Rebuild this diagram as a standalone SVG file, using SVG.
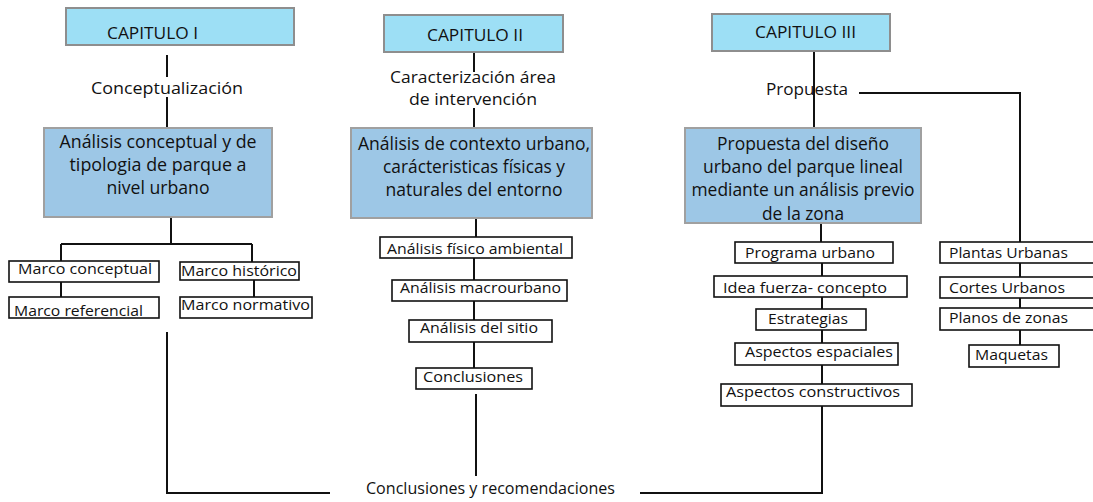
<svg xmlns="http://www.w3.org/2000/svg" width="1093" height="502" viewBox="0 0 1093 502">
<style>
text{font-family:"Open Sans","Liberation Sans",sans-serif;fill:#111;}
.cap{fill:#9ddff5;stroke:#8e8e8e;stroke-width:2;}
.main{fill:#9dc7e6;stroke:#a0a0a0;stroke-width:2;}
.sm{fill:#fff;stroke:#111;stroke-width:1.6;}
.t17{font-size:17px;}
.t18{font-size:18px;}
.t16{font-size:16px;}
.t15{font-size:15px;}
.c{fill:none;stroke:#111;stroke-width:2;}
</style>
<rect width="1093" height="502" fill="#fff"/>
<g id="connectors">
<path class="c" d="M167 55V77M167 97V128M171 217V244M61 244H252M61 244V261M61 282V297M252 244V262M254 280V297M167 332V493H330"/>
<path class="c" d="M474 52V72M474 108V128M476 218V237M474 258V280M474 301V320M474 342V368M476 394V476M640 493H822V406"/>
<path class="c" d="M814 51V128M859 93H1020V242M821 223V242M822 263V276M822 297V309M822 330V343M822 365V384M1020 263V277M1020 298V308M1020 330V345"/>
</g>
<g id="cap1"><rect class="cap" x="66" y="8" width="228" height="37"/><text class="t17" x="107" y="39" textLength="91" lengthAdjust="spacingAndGlyphs">CAPITULO I</text></g>
<g id="lbl1"><text class="t16" x="91" y="94" textLength="152" lengthAdjust="spacingAndGlyphs">Conceptualización</text></g>
<g id="main1"><rect class="main" x="44" y="128" width="228" height="89"/>
<text class="t18" x="158" y="148" text-anchor="middle" textLength="197" lengthAdjust="spacingAndGlyphs">Análisis conceptual y de</text>
<text class="t18" x="158" y="171" text-anchor="middle" textLength="177" lengthAdjust="spacingAndGlyphs">tipologia de parque a</text>
<text class="t18" x="158" y="194" text-anchor="middle" textLength="103" lengthAdjust="spacingAndGlyphs">nivel urbano</text></g>
<g id="mconc"><rect class="sm" x="9" y="261" width="150" height="21"/><text class="t15" x="18" y="274" textLength="134" lengthAdjust="spacingAndGlyphs">Marco conceptual</text></g>
<g id="mref"><rect class="sm" x="9" y="297" width="150" height="21"/><text class="t15" x="14" y="316" textLength="129" lengthAdjust="spacingAndGlyphs">Marco referencial</text></g>
<g id="mhist"><rect class="sm" x="180" y="262" width="119" height="18"/><text class="t15" x="181" y="276" textLength="116" lengthAdjust="spacingAndGlyphs">Marco histórico</text></g>
<g id="mnorm"><rect class="sm" x="180" y="297" width="132" height="21"/><text class="t15" x="181" y="310" textLength="129" lengthAdjust="spacingAndGlyphs">Marco normativo</text></g>

<g id="cap2"><rect class="cap" x="384" y="15" width="179" height="37"/><text class="t17" x="427" y="41" textLength="96" lengthAdjust="spacingAndGlyphs">CAPITULO II</text></g>
<g id="lbl2"><text class="t16" x="473" y="83" text-anchor="middle" textLength="166" lengthAdjust="spacingAndGlyphs">Caracterización área</text><text class="t16" x="473" y="105" text-anchor="middle" textLength="128" lengthAdjust="spacingAndGlyphs">de intervención</text></g>
<g id="main2"><rect class="main" x="351" y="128" width="241" height="90"/>
<text class="t18" x="474" y="150" text-anchor="middle" textLength="232" lengthAdjust="spacingAndGlyphs">Análisis de contexto urbano,</text>
<text class="t18" x="474" y="173" text-anchor="middle" textLength="182" lengthAdjust="spacingAndGlyphs">carácteristicas físicas y</text>
<text class="t18" x="474" y="196" text-anchor="middle" textLength="177" lengthAdjust="spacingAndGlyphs">naturales del entorno</text></g>
<g id="afa"><rect class="sm" x="380" y="237" width="192" height="21"/><text class="t15" x="387" y="254" textLength="176" lengthAdjust="spacingAndGlyphs">Análisis físico ambiental</text></g>
<g id="amu"><rect class="sm" x="392" y="280" width="175" height="21"/><text class="t15" x="400" y="293" textLength="161" lengthAdjust="spacingAndGlyphs">Análisis macrourbano</text></g>
<g id="ads"><rect class="sm" x="409" y="320" width="143" height="22"/><text class="t15" x="420" y="333" textLength="118" lengthAdjust="spacingAndGlyphs">Análisis del sitio</text></g>
<g id="concl"><rect class="sm" x="416" y="368" width="116" height="21"/><text class="t15" x="423" y="382" textLength="100" lengthAdjust="spacingAndGlyphs">Conclusiones</text></g>
<g id="cyr"><text class="t16" x="366" y="494" textLength="249" lengthAdjust="spacingAndGlyphs">Conclusiones y recomendaciones</text></g>

<g id="cap3"><rect class="cap" x="712" y="14" width="178" height="37"/><text class="t17" x="755" y="38" textLength="101" lengthAdjust="spacingAndGlyphs">CAPITULO III</text></g>
<g id="lbl3"><text class="t16" x="766" y="95" textLength="82" lengthAdjust="spacingAndGlyphs">Propuesta</text></g>
<g id="main3"><rect class="main" x="685" y="128" width="236" height="95"/>
<text class="t18" x="803" y="150" text-anchor="middle" textLength="172" lengthAdjust="spacingAndGlyphs">Propuesta del diseño</text>
<text class="t18" x="803" y="173" text-anchor="middle" textLength="200" lengthAdjust="spacingAndGlyphs">urbano del parque lineal</text>
<text class="t18" x="803" y="196" text-anchor="middle" textLength="223" lengthAdjust="spacingAndGlyphs">mediante un análisis previo</text>
<text class="t18" x="803" y="220" text-anchor="middle" textLength="82" lengthAdjust="spacingAndGlyphs">de la zona</text></g>
<g id="pu"><rect class="sm" x="735" y="242" width="158" height="21"/><text class="t15" x="745" y="258" textLength="130" lengthAdjust="spacingAndGlyphs">Programa urbano</text></g>
<g id="ifc"><rect class="sm" x="714" y="276" width="193" height="21"/><text class="t15" x="723" y="293" textLength="164" lengthAdjust="spacingAndGlyphs">Idea fuerza- concepto</text></g>
<g id="est"><rect class="sm" x="756" y="309" width="110" height="21"/><text class="t15" x="768" y="324" textLength="80" lengthAdjust="spacingAndGlyphs">Estrategias</text></g>
<g id="aesp"><rect class="sm" x="735" y="343" width="163" height="22"/><text class="t15" x="745" y="357" textLength="148" lengthAdjust="spacingAndGlyphs">Aspectos espaciales</text></g>
<g id="acon"><rect class="sm" x="721" y="384" width="191" height="22"/><text class="t15" x="726" y="397" textLength="174" lengthAdjust="spacingAndGlyphs">Aspectos constructivos</text></g>
<g id="plu"><rect class="sm" x="940" y="242" width="160" height="21"/><text class="t15" x="949" y="258" textLength="119" lengthAdjust="spacingAndGlyphs">Plantas Urbanas</text></g>
<g id="cu"><rect class="sm" x="940" y="277" width="160" height="21"/><text class="t15" x="949" y="293" textLength="116" lengthAdjust="spacingAndGlyphs">Cortes Urbanos</text></g>
<g id="pz"><rect class="sm" x="940" y="308" width="160" height="22"/><text class="t15" x="949" y="323" textLength="119" lengthAdjust="spacingAndGlyphs">Planos de zonas</text></g>
<g id="maq"><rect class="sm" x="969" y="345" width="90" height="22"/><text class="t15" x="975" y="360" textLength="73" lengthAdjust="spacingAndGlyphs">Maquetas</text></g>
</svg>
